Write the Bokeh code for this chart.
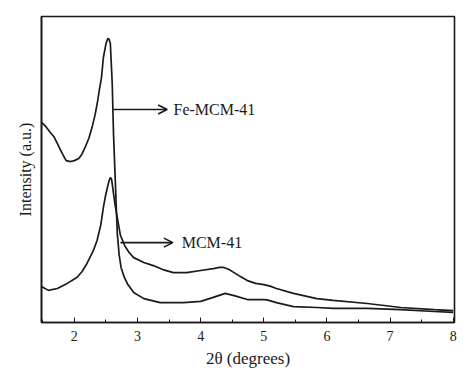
from bokeh.plotting import figure
from bokeh.models import Range1d, FixedTicker, Arrow, OpenHead, Label
from bokeh.embed import file_html
from bokeh.resources import INLINE

# Fe-MCM-41 pattern (2theta in degrees, intensity a.u.)
fe_x = [1.48, 1.55, 1.62, 1.68, 1.73, 1.81, 1.87, 1.94, 2.00, 2.07, 2.12, 2.17, 2.23, 2.28, 2.33,
        2.37, 2.40, 2.43, 2.46, 2.50, 2.53, 2.55, 2.57, 2.60, 2.62, 2.65, 2.68, 2.71, 2.74, 2.79,
        2.84, 2.94, 3.10, 3.36, 3.73, 4.00, 4.20, 4.39, 4.53, 4.74, 5.00, 5.05, 5.20, 5.47, 5.84,
        6.10, 6.64, 7.17, 7.70, 8.00]
fe_y = [65.4, 64.0, 62.1, 60.6, 58.5, 55.2, 52.9, 52.6, 52.9, 53.6, 55.0, 57.2, 60.2, 63.7, 68.0,
        72.5, 76.5, 80.0, 86.6, 91.0, 92.8, 92.6, 91.2, 78.1, 61.8, 45.4, 29.1, 22.0, 18.0, 14.8,
        12.7, 9.8, 7.8, 6.5, 6.5, 6.9, 8.2, 9.5, 8.8, 7.5, 7.5, 7.4, 6.5, 5.2, 4.9,
        4.6, 4.6, 4.2, 3.6, 3.3]

# MCM-41 pattern
mcm_x = [1.48, 1.59, 1.73, 1.88, 2.04, 2.12, 2.20, 2.26, 2.30, 2.36, 2.42, 2.46, 2.49, 2.52, 2.55,
         2.57, 2.59, 2.62, 2.65, 2.68, 2.73, 2.80, 2.87, 2.94, 3.10, 3.25, 3.40, 3.57, 3.78, 4.00,
         4.20, 4.30, 4.37, 4.45, 4.53, 4.63, 4.74, 4.87, 5.00, 5.10, 5.20, 5.47, 5.84, 6.10, 6.64,
         7.17, 7.70, 8.00]
mcm_y = [11.8, 10.5, 11.1, 12.7, 14.7, 16.6, 19.3, 21.8, 23.5, 26.8, 32.0, 37.6, 41.0, 43.8, 46.3,
         47.4, 46.8, 42.2, 37.8, 34.3, 28.5, 25.0, 22.8, 21.2, 19.6, 18.6, 17.3, 16.3, 16.3, 17.0,
         17.6, 18.0, 18.0, 17.3, 16.3, 15.0, 13.7, 12.8, 12.4, 11.9, 11.1, 9.5, 7.8, 7.2, 6.2,
         4.9, 4.2, 3.9]

x_ticks = [2, 3, 4, 5, 6, 7, 8]
x_minor = [1.5, 2.5, 3.5, 4.5, 5.5, 6.5, 7.5]

# annotations: [x_start, x_end, y], label position
fe_arrow = [2.62, 3.47, 69.6]
fe_label = "Fe-MCM-41"
fe_label_x = 3.57
mcm_arrow = [2.73, 3.56, 26.1]
mcm_label = "MCM-41"
mcm_label_x = 3.70

INK = "#1a1a1a"
FONT = "Liberation Serif"

p = figure(width=458, height=371, output_backend="svg", toolbar_location=None,
           x_range=Range1d(1.48, 8.02), y_range=Range1d(0, 100),
           min_border_left=41, min_border_right=4, min_border_top=16, min_border_bottom=49)

p.line(fe_x, fe_y, line_color=INK, line_width=1.7)
p.line(mcm_x, mcm_y, line_color=INK, line_width=1.7)

for (x0, x1, yy), txt, tx in [(fe_arrow, fe_label, fe_label_x), (mcm_arrow, mcm_label, mcm_label_x)]:
    p.add_layout(Arrow(end=OpenHead(size=9, line_color=INK, line_width=1.6),
                       x_start=x0, x_end=x1, y_start=yy, y_end=yy,
                       line_color=INK, line_width=1.6))
    p.add_layout(Label(x=tx, y=yy, text=txt, text_font=FONT, text_font_size="16px",
                       text_color=INK, text_baseline="middle", text_align="left"))

p.grid.visible = False
p.outline_line_color = INK
p.outline_line_width = 1.6
p.background_fill_color = "white"
p.border_fill_color = "white"

xa = p.xaxis[0]
xa.ticker = FixedTicker(ticks=x_ticks, minor_ticks=x_minor)
xa.major_tick_in = 5
xa.major_tick_out = 0
xa.minor_tick_in = 3
xa.minor_tick_out = 0
xa.major_tick_line_color = INK
xa.minor_tick_line_color = INK
xa.axis_line_color = INK
xa.axis_line_width = 1.6
xa.major_label_text_font = FONT
xa.major_label_text_font_size = "14px"
xa.major_label_text_color = INK
xa.major_label_standoff = 8
xa.axis_label = "2θ (degrees)"
xa.axis_label_text_font = FONT
xa.axis_label_text_font_size = "17px"
xa.axis_label_text_font_style = "normal"
xa.axis_label_text_color = INK
xa.axis_label_standoff = 5

ya = p.yaxis[0]
ya.ticker = FixedTicker(ticks=[])
ya.major_tick_line_color = None
ya.minor_tick_line_color = None
ya.major_label_text_font_size = "0px"
ya.axis_line_color = INK
ya.axis_line_width = 1.6
ya.axis_label = "Intensity (a.u.)"
ya.axis_label_text_font = FONT
ya.axis_label_text_font_size = "16px"
ya.axis_label_text_font_style = "normal"
ya.axis_label_text_color = INK
ya.axis_label_standoff = 8

open("out.html", "w").write(file_html(p, INLINE))
